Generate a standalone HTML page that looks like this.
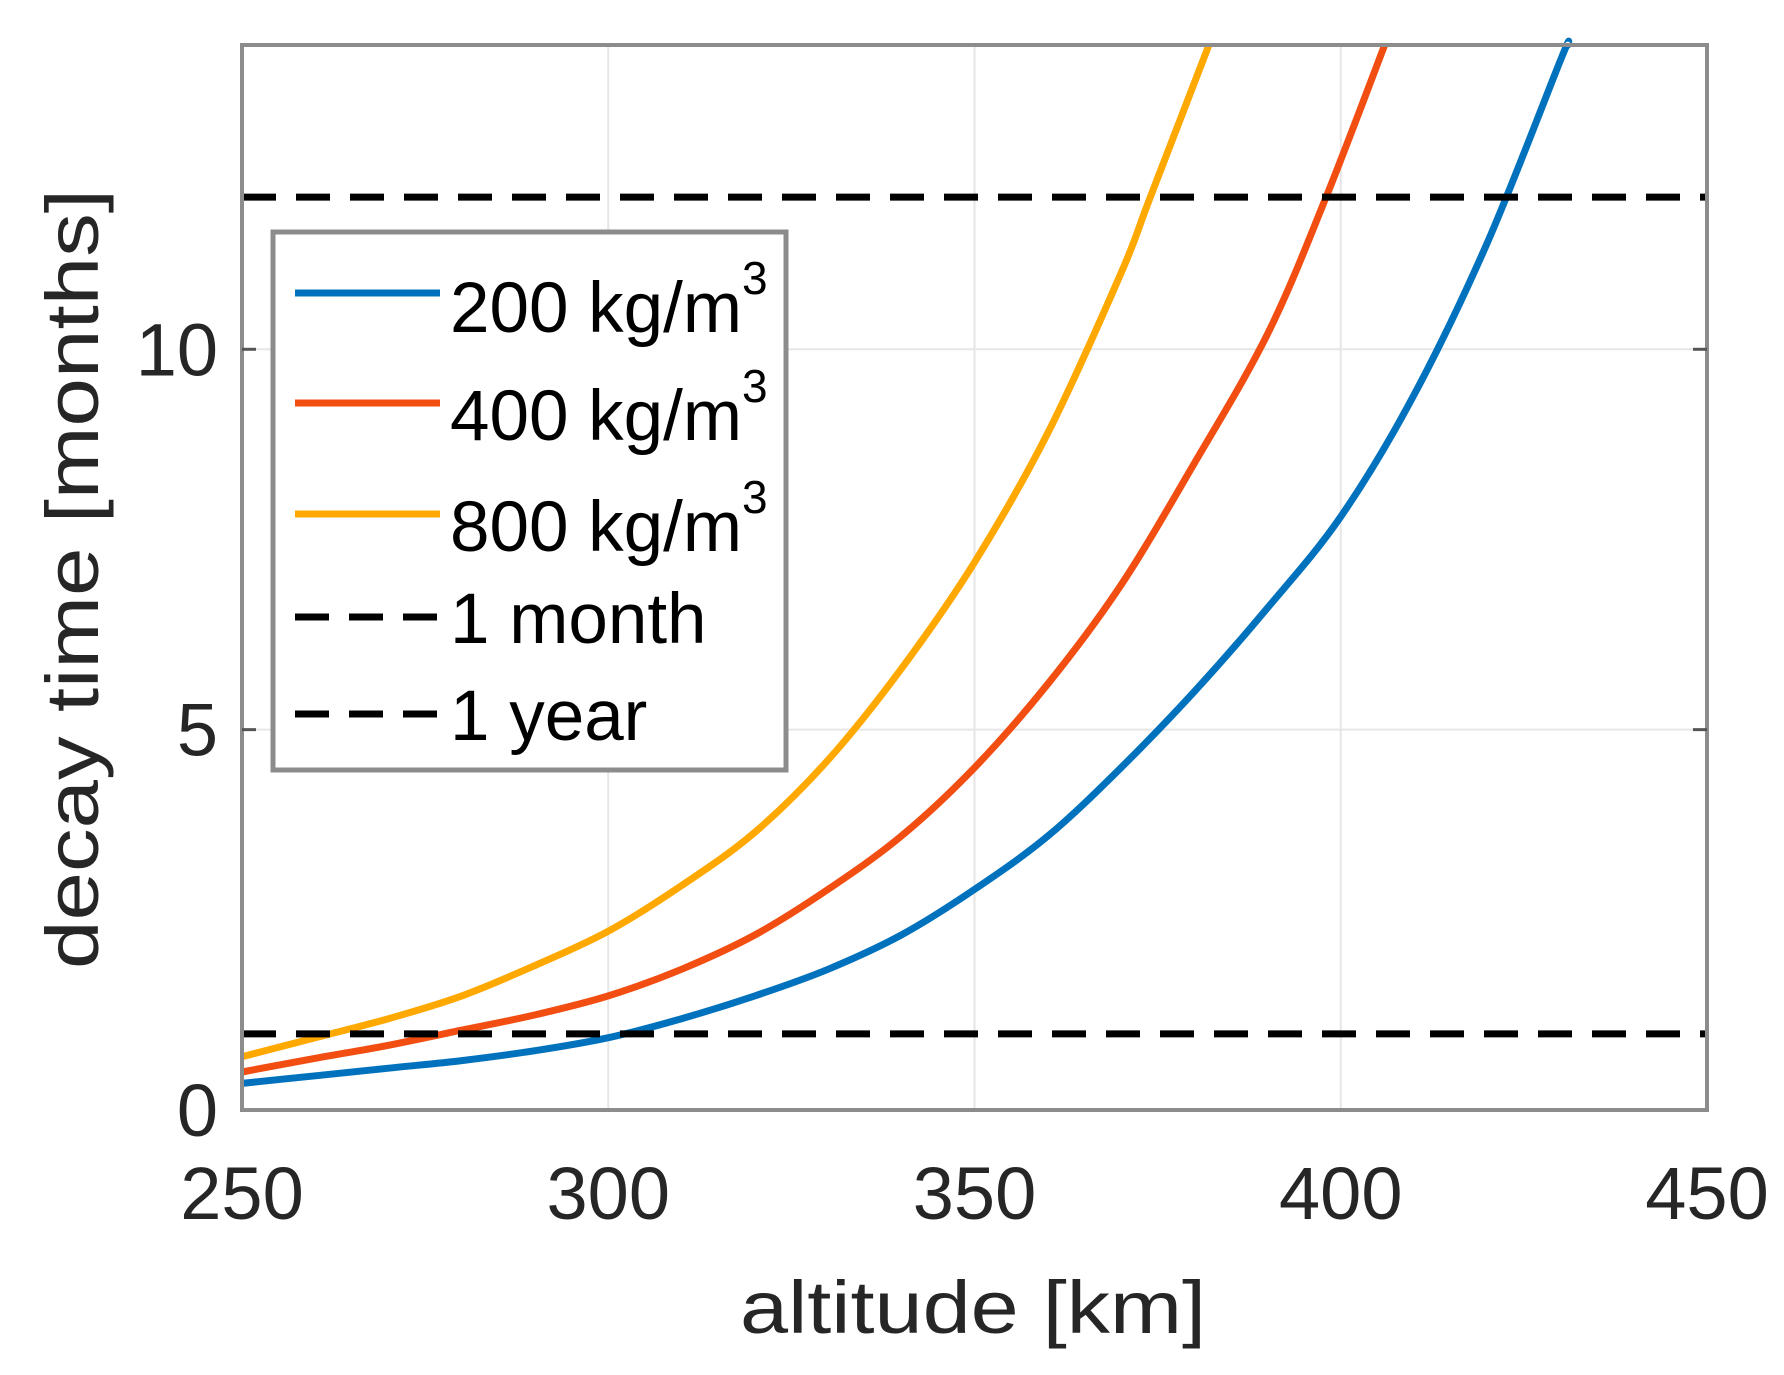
<!DOCTYPE html>
<html><head><meta charset="utf-8"><style>
html,body{margin:0;padding:0;background:#fff;}
svg{display:block;font-family:"Liberation Sans",Arial,sans-serif;}
</style></head><body>
<svg id="chart" width="1784" height="1375" viewBox="0 0 1784 1375">
<rect x="0" y="0" width="1784" height="1375" fill="#fff"/>
<g id="grid"></g>
<g id="series"></g>
<rect x="242" y="45" width="1465" height="1065" fill="none" stroke="#8c8c8c" stroke-width="4"/>
<g id="ticks"></g>
<text x="973" y="1333" font-size="74" fill="#262626" text-anchor="middle" textLength="466" lengthAdjust="spacingAndGlyphs">altitude [km]</text>
<text transform="translate(98,579) rotate(-90)" font-size="74" fill="#262626" text-anchor="middle" textLength="780" lengthAdjust="spacingAndGlyphs">decay time [months]</text>
<g>
<rect x="273" y="232" width="513" height="538" fill="#fff" stroke="#8c8c8c" stroke-width="5"/>
<line x1="295" y1="293" x2="440" y2="293" stroke="#0072BD" stroke-width="7"/>
<text x="450" y="332" font-size="71" fill="#000">200 kg/m<tspan font-size="46" dy="-38">3</tspan></text>
<line x1="295" y1="403" x2="440" y2="403" stroke="#F24E12" stroke-width="7"/>
<text x="450" y="440" font-size="71" fill="#000">400 kg/m<tspan font-size="46" dy="-38">3</tspan></text>
<line x1="295" y1="514" x2="440" y2="514" stroke="#FFA800" stroke-width="7"/>
<text x="450" y="551" font-size="71" fill="#000">800 kg/m<tspan font-size="46" dy="-38">3</tspan></text>
<line x1="295" y1="617" x2="440" y2="617" stroke="#000" stroke-width="7" stroke-dasharray="34,20"/>
<text x="450" y="643" font-size="71" fill="#000">1 month</text>
<line x1="295" y1="714" x2="440" y2="714" stroke="#000" stroke-width="7" stroke-dasharray="34,20"/>
<text x="450" y="740" font-size="71" fill="#000">1 year</text>
</g>
</svg>
<script>
const xTicks = [250, 300, 350, 400, 450];
const yTicks = [0, 5, 10];
const altBlue = [250,260,270,280,290,300,310,320,330,340,350,360,370,380,390,400,410,420,430,431];
const valBlue = [0.35,0.45,0.55,0.65,0.78,0.95,1.2,1.5,1.85,2.3,2.9,3.6,4.5,5.5,6.6,7.8,9.4,11.4,13.8,14];
const altRed = [250,260,270,280,290,300,310,320,330,340,350,360,370,380,390,398,406];
const valRed = [0.5,0.68,0.85,1.05,1.25,1.5,1.85,2.3,2.9,3.6,4.5,5.6,6.9,8.5,10.2,12,14];
const altOrange = [250,260,270,280,290,300,310,320,330,340,350,360,370,374,382];
const valOrange = [0.7,0.95,1.2,1.5,1.9,2.35,2.95,3.65,4.6,5.8,7.2,8.9,11.0,12,14];
const refLevels = [1, 12];
const refNames = ['one-month-line','one-year-line'];

const NS='http://www.w3.org/2000/svg';
const L=242,R=1707,T=45,B=1110,XMIN=250,XMAX=450,YMIN=0,YMAX=14;
const sx=v=>L+(v-XMIN)/(XMAX-XMIN)*(R-L);
const sy=v=>B-(v-YMIN)/(YMAX-YMIN)*(B-T);
function mk(tag,attrs,parent){const e=document.createElementNS(NS,tag);for(const k in attrs)e.setAttribute(k,attrs[k]);parent.appendChild(e);return e;}
const grid=document.getElementById('grid'),ticks=document.getElementById('ticks'),series=document.getElementById('series');
xTicks.forEach(t=>{
  if(t>XMIN&&t<XMAX){const g=mk('line',{x1:sx(t),x2:sx(t),y1:T,y2:B,stroke:'#e6e6e6','stroke-width':2},grid);
  
  }
  const tx=mk('text',{x:sx(t),y:1219,'font-size':74,fill:'#262626','text-anchor':'middle'},ticks);
  tx.textContent=t;
  
  
});
yTicks.forEach(t=>{
  if(t>YMIN){const g=mk('line',{x1:L,x2:R,y1:sy(t),y2:sy(t),stroke:'#e6e6e6','stroke-width':2},grid);
  
  
  mk('line',{x1:L,x2:L+14,y1:sy(t),y2:sy(t),stroke:'#555','stroke-width':3},ticks);
  mk('line',{x1:R-14,x2:R,y1:sy(t),y2:sy(t),stroke:'#555','stroke-width':3},ticks);}
  const tx=mk('text',{x:218,y:sy(t)+26,'font-size':74,fill:'#262626','text-anchor':'end'},ticks);
  tx.textContent=t;
  
  
});
function curve(xs,ys,color,name){
  const P=xs.map((x,i)=>[sx(x),sy(ys[i])]);
  let d='M'+P[0][0].toFixed(1)+','+P[0][1].toFixed(1);
  for(let i=0;i<P.length-1;i++){
    const p0=P[Math.max(i-1,0)],p1=P[i],p2=P[i+1],p3=P[Math.min(i+2,P.length-1)];
    const c1=[p1[0]+(p2[0]-p0[0])/6,p1[1]+(p2[1]-p0[1])/6];
    const c2=[p2[0]-(p3[0]-p1[0])/6,p2[1]-(p3[1]-p1[1])/6];
    d+=' C'+c1[0].toFixed(1)+','+c1[1].toFixed(1)+' '+c2[0].toFixed(1)+','+c2[1].toFixed(1)+' '+p2[0].toFixed(1)+','+p2[1].toFixed(1);
  }
  const p=mk('path',{d:d,fill:'none',stroke:color,'stroke-width':7,'stroke-linejoin':'round'},series);
  
  
}
curve(altBlue,valBlue,'#0072BD','curve-200');
curve(altRed,valRed,'#F24E12','curve-400');
curve(altOrange,valOrange,'#FFA800','curve-800');
refLevels.forEach((v,i)=>{
  const l=mk('line',{x1:L,x2:R,y1:sy(v),y2:sy(v),stroke:'#000','stroke-width':7,'stroke-dasharray':'34,20'},series);
  
  
});
</script>
</body></html>
